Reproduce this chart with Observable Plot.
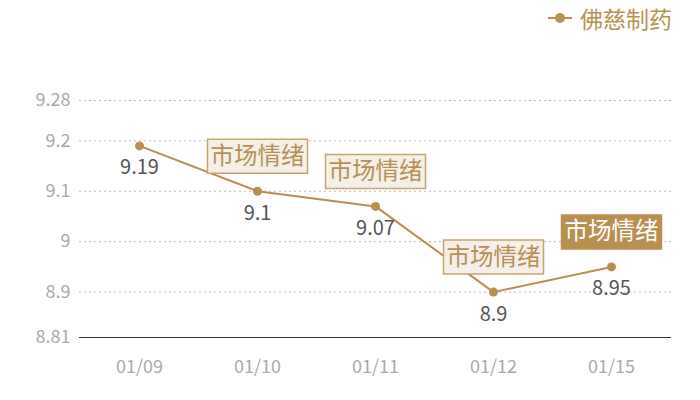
<!DOCTYPE html>
<html><head><meta charset="utf-8">
<script src="https://cdn.jsdelivr.net/npm/d3@7"></script>
<script src="https://cdn.jsdelivr.net/npm/@observablehq/plot@0.6"></script>
<style>
body{margin:0;background:#fff;font-family:"Noto Sans CJK SC","Noto Sans",sans-serif;}
#legend{height:36px;position:relative;}
#legend .item{position:absolute;left:548px;top:1px;height:34px;display:flex;align-items:center;color:#b8914f;font-size:23px;}
#legend .sym{position:relative;width:24px;height:2px;background:#b8914f;margin-right:8px;}
#legend .sym::after{content:"";position:absolute;left:7px;top:-4px;width:10px;height:10px;border-radius:50%;background:#b8914f;}
</style></head>
<body>
<div id="legend"><div class="item"><span class="sym"></span><span id="sname"></span></div></div>
<div id="chart"></div>
<script>
const dates = ["01/09","01/10","01/11","01/12","01/15"];
const prices = [9.19, 9.1, 9.07, 8.9, 8.95];
const seriesName = "佛慈制药";
const yTicks = [9.28, 9.2, 9.1, 9, 8.9, 8.81];
const annoDates = ["01/10","01/11","01/12","01/15"];
const annoHighlight = [false, false, false, true];
const annoText = "市场情绪";

document.getElementById("sname").textContent = seriesName;
const gold = "#b98f50";
const data = dates.map((d,i)=>({date:d, price:prices[i]}));
const annos = annoDates.map((d,i)=>({date:d, price:prices[dates.indexOf(d)], hi:annoHighlight[i]}));
const boxSym = {draw(ctx){ ctx.moveTo(-50,-17); ctx.lineTo(50,-17); ctx.lineTo(50,17); ctx.lineTo(-50,17); ctx.closePath(); }};

const chart = Plot.plot({
  width:700, height:364,
  marginLeft:79, marginRight:29, marginTop:64, marginBottom:63,
  style:{fontFamily:'"Noto Sans CJK SC","Noto Sans",sans-serif', background:"#fff"},
  x:{type:"point", domain:dates, padding:0.5, label:null},
  y:{domain:[8.81,9.28], label:null},
  marks:[
    Plot.ruleY(yTicks.filter(t=>t!==8.81), {stroke:"#bbb", strokeDasharray:"2,3", strokeWidth:1}),
    Plot.ruleY([8.81], {stroke:"#333", strokeWidth:1.2}),
    Plot.axisY({ticks:yTicks, tickSize:0, tickPadding:9, tickFormat:d=>String(d), fontSize:18, fill:"#aaa", label:null}),
    Plot.axisX({tickSize:0, tickPadding:23, fontSize:18, fill:"#aaa", label:null}),
    Plot.line(data, {x:"date", y:"price", stroke:gold, strokeWidth:2}),
    Plot.dot(data, {x:"date", y:"price", r:4.5, fill:gold}),
    Plot.text(data, {x:"date", y:"price", text:d=>String(d.price), dy:22, fontSize:20, fill:"#555"}),
    Plot.dot(annos, {x:"date", y:"price", dy:-35, symbol:boxSym, r:10,
      fill:d=>d.hi?gold:"#f4efe8", stroke:d=>d.hi?gold:"#c9a36a", strokeWidth:1.5}),
    Plot.text(annos, {x:"date", y:"price", dy:-35, text:()=>annoText, fontSize:23.5,
      fill:d=>d.hi?"#fff":gold})
  ]
});
document.getElementById("chart").appendChild(chart);
</script>
</body></html>
